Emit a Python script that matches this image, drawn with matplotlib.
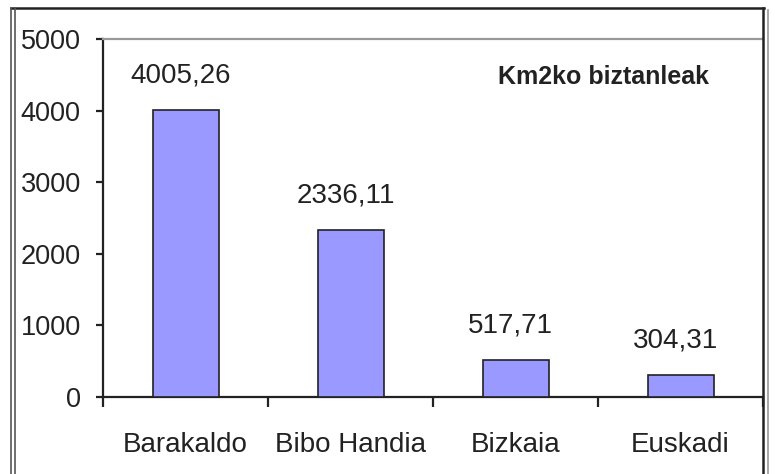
import matplotlib
matplotlib.use("Agg")
import matplotlib.pyplot as plt
from matplotlib.lines import Line2D

categories = ["Barakaldo", "Bibo Handia", "Bizkaia", "Euskadi"]
values = [4005.26, 2336.11, 517.71, 304.31]
value_labels = ["4005,26", "2336,11", "517,71", "304,31"]
yticks = [0, 1000, 2000, 3000, 4000, 5000]
title = "Km2ko biztanleak"

plt.rcParams['font.family'] = ['Liberation Sans', 'DejaVu Sans']
W, H = 775, 474
fig = plt.figure(figsize=(W / 100, H / 100), dpi=100)
ax = fig.add_axes([103 / W, 77 / H, 660 / W, 358 / H])

x = list(range(len(categories)))
ax.bar(x, values, width=0.4, color="#9999FF", edgecolor="#222222", linewidth=1.2, zorder=3)
ax.set_xlim(-0.5, len(categories) - 0.5)
ax.set_ylim(0, 5000)
ax.set_yticks(yticks)
ax.set_yticklabels([str(t) for t in yticks])
ax.set_xticks(x)
ax.set_xticklabels(categories)
ax.set_xticks([i - 0.5 for i in range(len(categories) + 1)], minor=True)
ax.tick_params(axis='x', which='major', length=0, pad=25, labelsize=20, labelcolor="#222222")
ax.tick_params(axis='x', which='minor', length=7, width=1.6, direction='out', color="#222222")
ax.tick_params(axis='y', length=5, width=1.6, direction='out', pad=11, labelsize=19.5,
               labelcolor="#222222", color="#222222")

for s in ["left", "bottom"]:
    ax.spines[s].set_linewidth(1.6)
    ax.spines[s].set_color("#222222")
ax.spines["right"].set_visible(False)
ax.spines["top"].set_color("#999999")
ax.spines["top"].set_linewidth(1.6)

for xi, v, lab in zip(x, values, value_labels):
    ax.annotate(lab, (xi - 0.03, v), xytext=(0, 25), textcoords='offset points',
                ha='center', va='center', fontsize=20, color="#222222")

ax.text(0.759, 0.894, title, transform=ax.transAxes, ha='center', va='center',
        fontsize=18, fontweight='bold', color="#222222")

def fl(x0, y0, x1, y1, c, lw):
    fig.add_artist(Line2D([x0 / W, x1 / W], [1 - y0 / H, 1 - y1 / H],
                          color=c, linewidth=lw, transform=fig.transFigure))

fl(11, 8, 764, 8, "#222222", 1.8)
fl(11, 8, 11, 474, "#555555", 1.2)
fl(15, 8, 15, 474, "#555555", 1.2)
fl(763, 8, 763, 474, "#222222", 1.8)
fl(768, 10, 768, 474, "#999999", 1.2)

fig.savefig("out.png", dpi=100)
